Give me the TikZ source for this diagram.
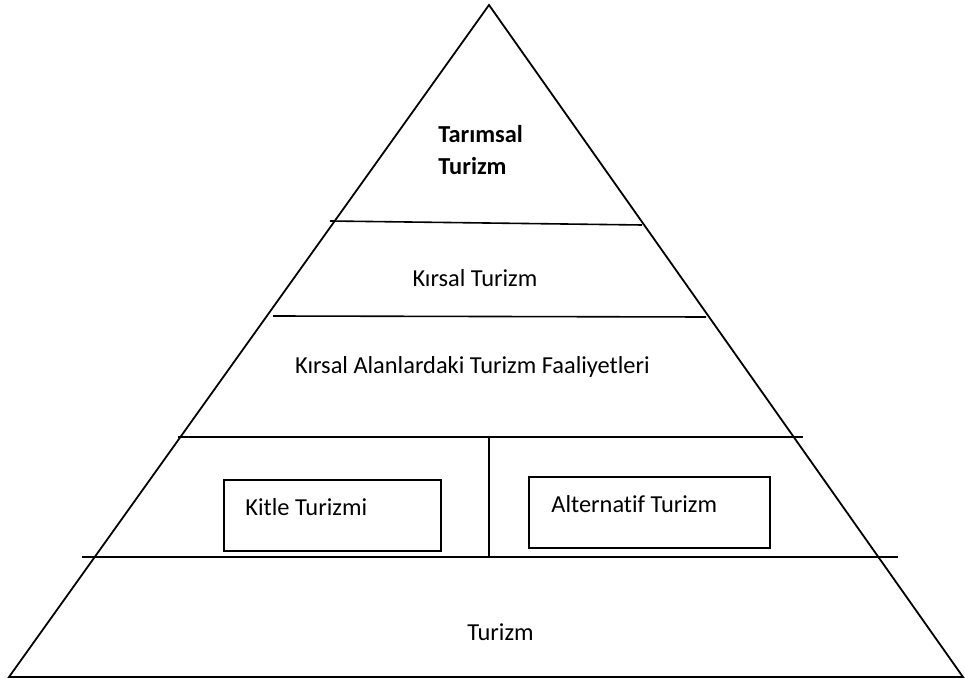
\documentclass[tikz,border=0pt]{standalone}
\usepackage{fontspec}
\setmainfont[Ligatures={NoCommon}]{Carlito}
\begin{document}
\begin{tikzpicture}[x=0.5pt,y=-0.5pt,
  edge/.style={line width=0.9pt},
  rule/.style={line width=0.8pt},
  lbl/.style={font=\fontsize{12.2}{14}\selectfont, inner sep=0pt},
  blbl/.style={font=\fontsize{12.2}{14}\selectfont\bfseries, inner sep=0pt},
  box/.style={draw, line width=0.9pt, inner sep=0pt}]
\useasboundingbox (0,0) rectangle (965,679);
\coordinate (apex) at (489,5);
\coordinate (bl) at (9,677);
\coordinate (br) at (963,677);
\draw[edge, line join=miter] (apex) -- (br) -- (bl) -- cycle;
% horizontal rules
\coordinate (r1a) at (330,221); \coordinate (r1b) at (642,225);
\coordinate (r2a) at (273,316); \coordinate (r2b) at (706,317);
\coordinate (r3a) at (178,437); \coordinate (r3b) at (803,437);
\coordinate (r4a) at (82,557);  \coordinate (r4b) at (898,557);
\coordinate (dv) at (489,437); \coordinate (dvb) at (489,557);
\draw[rule] (r1a) -- (r1b);
\draw[rule] (r2a) -- (r2b);
\draw[rule] (r3a) -- (r3b);
\draw[rule] (r4a) -- (r4b);
\draw[rule] (dv) -- (dvb);
% boxes
\node[box, minimum width=108.5pt, minimum height=35.5pt] (kbox) at (332.5,515.5) {};
\node[box, minimum width=120.5pt, minimum height=35.5pt] (abox) at (649.5,512.5) {};
% texts
\node[blbl, anchor=west] (tar1) at (438,134) {Tarımsal};
\node[blbl, anchor=west] (tar2) at (438,166) {Turizm};
\node[lbl] (kt) at (475,278) {Kırsal Turizm};
\node[lbl] (kat) at (472.5,367) {Kırsal Alanlardaki Turizm Faaliyetleri};
\node[lbl, anchor=west] (kit) at (245,507) {Kitle Turizmi};
\node[lbl, anchor=west] (alt) at (551,504) {Alternatif Turizm};
\node[lbl] (tur) at (500.5,632) {Turizm};
\end{tikzpicture}
\end{document}
